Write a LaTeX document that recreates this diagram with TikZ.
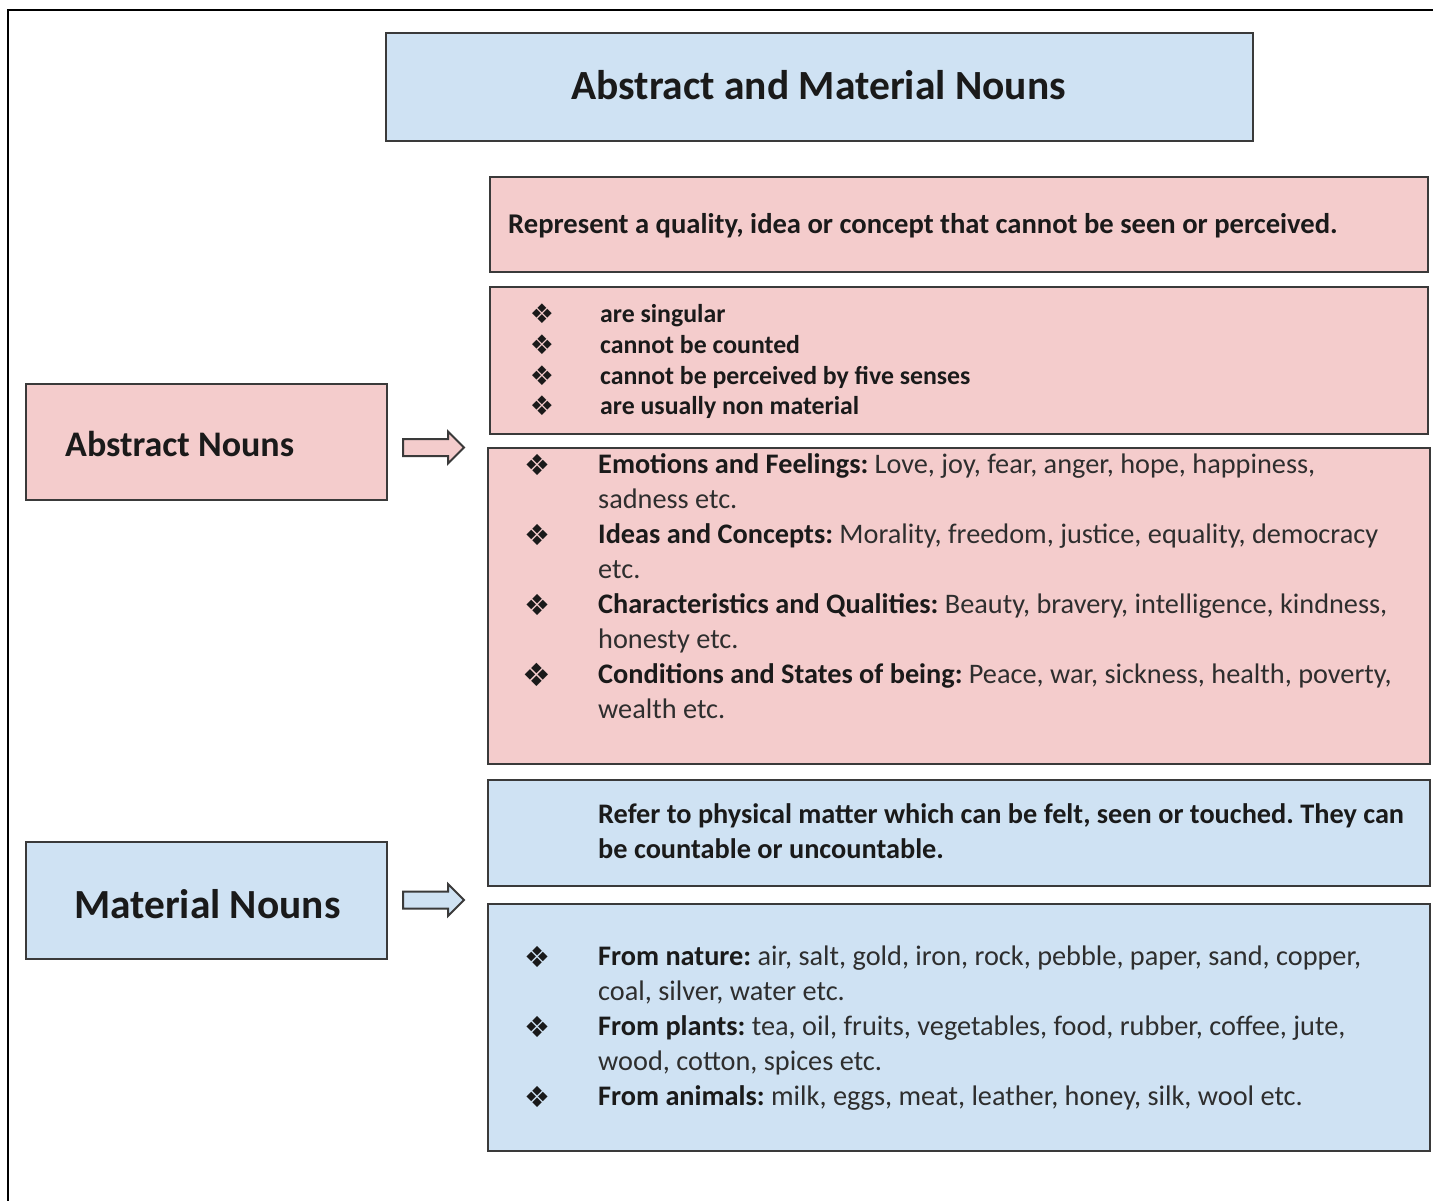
\documentclass[tikz,border=0pt]{standalone}
\usepackage{fontspec}
\setmainfont{Carlito}
\newfontfamily\symfont{DejaVu Sans}
\usetikzlibrary{shapes.arrows}
\frenchspacing
\definecolor{pinkbox}{HTML}{F4CCCC}
\definecolor{bluebox}{HTML}{CFE2F3}
\definecolor{edgecol}{HTML}{3A3A3A}
\definecolor{txt}{HTML}{1A1A1A}
\definecolor{txtreg}{HTML}{2E2E2E}
\tikzset{
  box/.style={draw=edgecol, line width=2pt, rectangle, inner sep=0pt, anchor=north west},
  pinkb/.style={box, fill=pinkbox},
  blueb/.style={box, fill=bluebox},
  body/.style={anchor=base west, inner sep=0pt, text=txtreg, font=\fontsize{28.3}{35}\selectfont},
  smallb/.style={anchor=base west, inner sep=0pt, text=txt, font=\fontsize{25.8}{31}\selectfont\bfseries},
  bul/.style={anchor=center, inner sep=0pt, text=txt, font=\symfont\fontsize{29}{29}\selectfont},
  bulbig/.style={anchor=center, inner sep=0pt, text=txt, font=\symfont\fontsize{32}{32}\selectfont},
  bulmid/.style={anchor=center, inner sep=0pt, text=txt, font=\symfont\fontsize{27}{27}\selectfont},
  blockarrow/.style={single arrow, draw=edgecol, line width=2pt, minimum height=61pt,
    single arrow head extend=7.5pt, single arrow head indent=0pt,
    inner xsep=0pt, inner ysep=7.5pt, text height=0pt, text depth=0pt, anchor=west}
}
\begin{document}
\begin{tikzpicture}[x=1pt,y=-1pt]
\useasboundingbox (0,0) rectangle (1433,1200);
\fill[white] (0,0) rectangle (1433,1200);
% outer frame
\draw[line width=2.5pt, black] (8,1201) -- (8,10) -- (1434,10);

% title
\node[blueb, minimum width=867pt, minimum height=108pt] (titlebox) at (385,32) {};
\node[anchor=base, inner sep=0pt, text=txt, font=\fontsize{41.5}{48}\selectfont\bfseries] (title) at (818.5,99.5) {Abstract and Material Nouns};

% left labels
\node[pinkb, minimum width=361pt, minimum height=116pt] (abs) at (25,383) {};
\node[anchor=base west, inner sep=0pt, text=txt, font=\fontsize{36}{42}\selectfont\bfseries] (abstxt) at (65,456) {Abstract Nouns};
\node[blueb, minimum width=361pt, minimum height=117pt] (mat) at (25,841) {};
\node[anchor=base west, inner sep=0pt, text=txt, font=\fontsize{41.4}{48}\selectfont\bfseries] (mattxt) at (74,918) {Material Nouns};

% arrows
\node[blockarrow, fill=pinkbox] (arrA) at (402,447.5) {};
\node[blockarrow, fill=bluebox] (arrM) at (402,900) {};

% abstract boxes
\node[pinkb, minimum width=938pt, minimum height=95pt] (r1) at (489,176) {};
\node[smallb, font=\fontsize{28.6}{34}\selectfont\bfseries] (r1t) at (508,233) {Represent a quality, idea or concept that cannot be seen or perceived.};

\node[pinkb, minimum width=938pt, minimum height=147pt] (r2) at (489,286) {};
\node[bulmid] (r2b1) at (542,314) {❖};
\node[bulmid] (r2b2) at (542,345) {❖};
\node[bulmid] (r2b3) at (542,376) {❖};
\node[bulmid] (r2b4) at (542,406) {❖};
\node[smallb] (r2t1) at (600,322) {are singular};
\node[smallb] (r2t2) at (600,353) {cannot be counted};
\node[smallb] (r2t3) at (600,384) {cannot be perceived by five senses};
\node[smallb] (r2t4) at (600,414) {are usually non material};

\node[pinkb, minimum width=942pt, minimum height=316pt] (r3) at (487,447) {};
\node[bul] (r3b1) at (537,465) {❖};
\node[bul] (r3b2) at (537,535) {❖};
\node[bul] (r3b3) at (537,605) {❖};
\node[bulbig] (r3b4) at (537,675) {❖};
\node[body] (r3l1) at (598,473) {\textbf{\color{txt}Emotions and Feelings:} Love, joy, fear, anger, hope, happiness,};
\node[body] (r3l2) at (598,508) {sadness etc.};
\node[body] (r3l3) at (598,543) {\textbf{\color{txt}Ideas and Concepts:} Morality, freedom, justice, equality, democracy};
\node[body] (r3l4) at (598,578) {etc.};
\node[body] (r3l5) at (598,613) {\textbf{\color{txt}Characteristics and Qualities:} Beauty, bravery, intelligence, kindness,};
\node[body] (r3l6) at (598,648) {honesty etc.};
\node[body] (r3l7) at (598,683) {\textbf{\color{txt}Conditions and States of being:} Peace, war, sickness, health, poverty,};
\node[body] (r3l8) at (598,718) {wealth etc.};

% material boxes
\node[blueb, minimum width=942pt, minimum height=106pt] (b1) at (487,779) {};
\node[body, text=txt] (b1l1) at (598,823) {\bfseries Refer to physical matter which can be felt, seen or touched. They can};
\node[body, text=txt] (b1l2) at (598,858) {\bfseries be countable or uncountable.};

\node[blueb, minimum width=942pt, minimum height=247pt] (b2) at (487,903) {};
\node[bul] (b2b1) at (537,957) {❖};
\node[bul] (b2b2) at (537,1027) {❖};
\node[bul] (b2b3) at (537,1097) {❖};
\node[body] (b2l1) at (598,965) {\textbf{\color{txt}From nature:} air, salt, gold, iron, rock, pebble, paper, sand, copper,};
\node[body] (b2l2) at (598,1000) {coal, silver, water etc.};
\node[body] (b2l3) at (598,1035) {\textbf{\color{txt}From plants:} tea, oil, fruits, vegetables, food, rubber, coffee, jute,};
\node[body] (b2l4) at (598,1070) {wood, cotton, spices etc.};
\node[body] (b2l5) at (598,1105) {\textbf{\color{txt}From animals:} milk, eggs, meat, leather, honey, silk, wool etc.};
\end{tikzpicture}
\end{document}
